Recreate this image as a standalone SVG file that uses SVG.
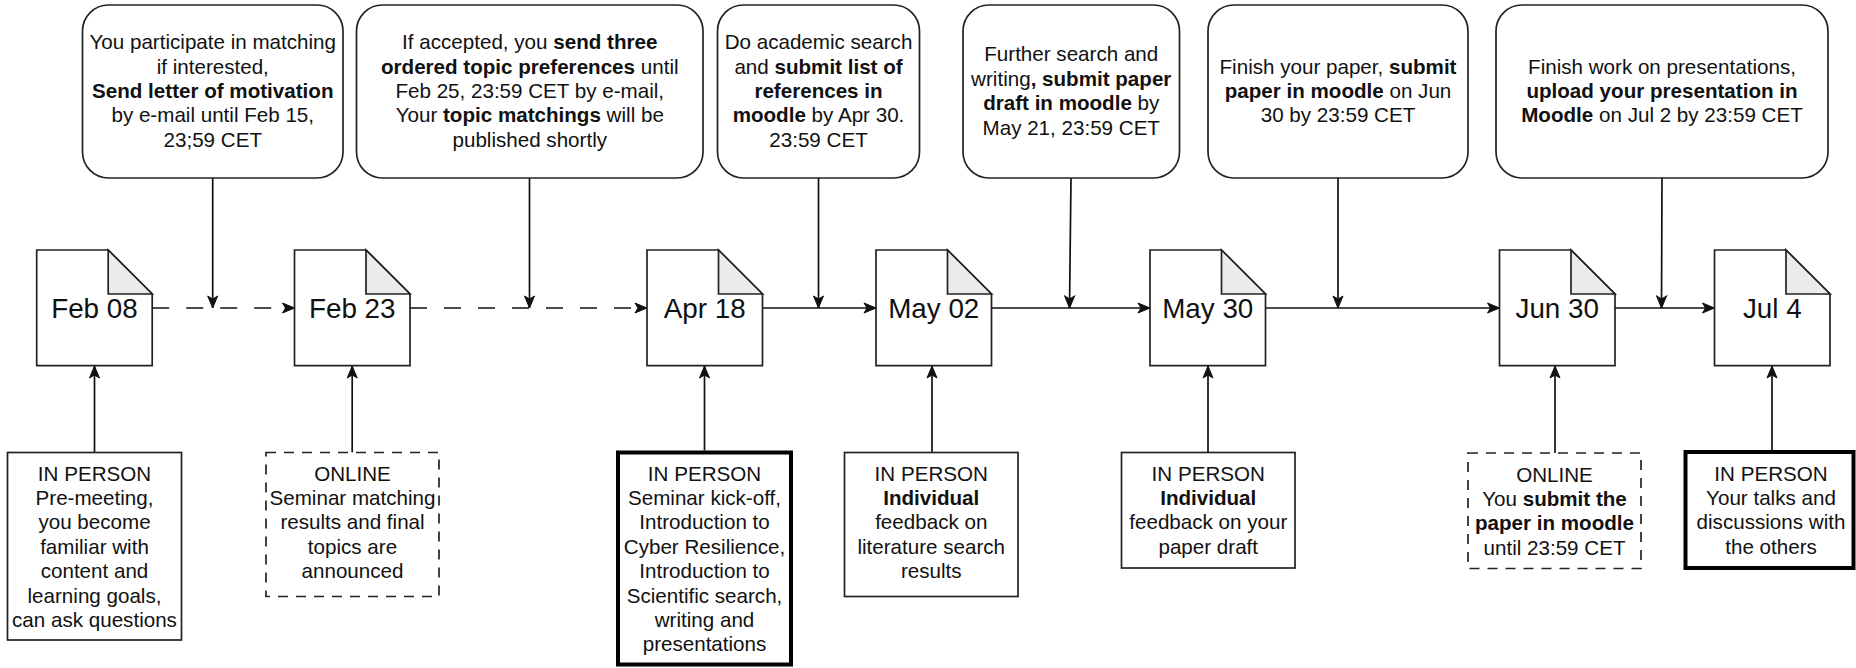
<svg xmlns="http://www.w3.org/2000/svg" width="1856" height="668" viewBox="0 0 1856 668">
<defs>
<style>
text{font-family:"Liberation Sans",Arial,Helvetica,sans-serif;fill:#111;}
.t{font-size:20.6px;text-anchor:middle;}
.b{font-weight:bold;}
.date{font-size:27.8px;text-anchor:middle;}
.call{fill:#fff;stroke:#222;stroke-width:1.7;}
.box{fill:#fff;stroke:#222;stroke-width:1.7;}
.dbox{fill:#fff;stroke:#222;stroke-width:1.7;stroke-dasharray:10 8;}
.tbox{fill:#fff;stroke:#000;stroke-width:4;}
.doc{fill:#fff;stroke:#222;stroke-width:1.7;stroke-linejoin:miter;}
.fold{fill:#ebebeb;stroke:#222;stroke-width:1.7;}
.edge{fill:none;stroke:#111;stroke-width:1.7;marker-end:url(#arr);}
.dash{stroke-dasharray:17 17;}
</style>
<marker id="arr" markerUnits="userSpaceOnUse" viewBox="0 0 14 12" markerWidth="14" markerHeight="12" refX="13" refY="6" orient="auto">
<path d="M13,6 L1,1 L4,6 L1,11 Z" fill="#111" stroke="#111" stroke-width="1" stroke-dasharray="none"/>
</marker>
</defs>
<rect x="0" y="0" width="1856" height="668" fill="#fff"/>

<g id="connectors">
<path class="edge dash" d="M152.2,308 H294.5"/>
<path class="edge dash" d="M410,308 H647"/>
<path class="edge" d="M762.5,308 H876"/>
<path class="edge" d="M991.5,308 H1150"/>
<path class="edge" d="M1265.5,308 H1499.5"/>
<path class="edge" d="M1615,308 H1714.5"/>
<path class="edge" d="M212.7,178 V308"/>
<path class="edge" d="M529.5,178 V308"/>
<path class="edge" d="M818.5,178 V308"/>
<path class="edge" d="M1071,178 L1069.5,308"/>
<path class="edge" d="M1338,178 V308"/>
<path class="edge" d="M1662,178 L1661.5,308"/>
<path class="edge" d="M94.5,452.5 V366"/>
<path class="edge" d="M352.2,452.5 V366"/>
<path class="edge" d="M704.5,450.5 V366"/>
<path class="edge" d="M932,452.5 V366"/>
<path class="edge" d="M1208,452.5 V366"/>
<path class="edge" d="M1555,453 V366"/>
<path class="edge" d="M1772,450 V366"/>
</g>

<g id="note1">
<rect class="call" x="82.5" y="5" width="260.5" height="173" rx="26"/>
<text class="t" x="212.75" y="49.2">You participate in matching</text>
<text class="t" x="212.75" y="73.6">if interested,</text>
<text class="t b" x="212.75" y="98">Send letter of motivation</text>
<text class="t" x="212.75" y="122.4">by e-mail until Feb 15,</text>
<text class="t" x="212.75" y="146.8">23;59 CET</text>
</g>

<g id="note2">
<rect class="call" x="356.5" y="5" width="346.5" height="173" rx="26"/>
<text class="t" x="529.75" y="49.2">If accepted, you <tspan class="b">send three</tspan></text>
<text class="t" x="529.75" y="73.6"><tspan class="b">ordered topic preferences</tspan> until</text>
<text class="t" x="529.75" y="98">Feb 25, 23:59 CET by e-mail,</text>
<text class="t" x="529.75" y="122.4">Your <tspan class="b">topic matchings</tspan> will be</text>
<text class="t" x="529.75" y="146.8">published shortly</text>
</g>

<g id="note3">
<rect class="call" x="717.5" y="5" width="202" height="173" rx="26"/>
<text class="t" x="818.5" y="49.2">Do academic search</text>
<text class="t" x="818.5" y="73.6">and <tspan class="b">submit list of</tspan></text>
<text class="t b" x="818.5" y="98">references in</text>
<text class="t" x="818.5" y="122.4"><tspan class="b">moodle</tspan> by Apr 30.</text>
<text class="t" x="818.5" y="146.8">23:59 CET</text>
</g>

<g id="note4">
<rect class="call" x="963" y="5" width="216.5" height="173" rx="26"/>
<text class="t" x="1071.25" y="61.4">Further search and</text>
<text class="t" x="1071.25" y="85.8">writing<tspan class="b">, submit paper</tspan></text>
<text class="t" x="1071.25" y="110.2"><tspan class="b">draft in moodle</tspan> by</text>
<text class="t" x="1071.25" y="134.6">May 21, 23:59 CET</text>
</g>

<g id="note5">
<rect class="call" x="1208" y="5" width="260" height="173" rx="26"/>
<text class="t" x="1338" y="73.6">Finish your paper, <tspan class="b">submit</tspan></text>
<text class="t" x="1338" y="98"><tspan class="b">paper in moodle</tspan> on Jun</text>
<text class="t" x="1338" y="122.4">30 by 23:59 CET</text>
</g>

<g id="note6">
<rect class="call" x="1496" y="5" width="332" height="173" rx="26"/>
<text class="t" x="1662" y="73.6">Finish work on presentations,</text>
<text class="t b" x="1662" y="98">upload your presentation in</text>
<text class="t" x="1662" y="122.4"><tspan class="b">Moodle</tspan> on Jul 2 by 23:59 CET</text>
</g>

<g id="feb08" transform="translate(36.7,250)">
<path class="doc" d="M0,0H71.5L115.5,44V115.7H0Z"/>
<path class="fold" d="M71.5,0V44H115.5Z"/>
<text class="date" x="57.75" y="68">Feb 08</text>
</g>
<g id="feb23" transform="translate(294.5,250)">
<path class="doc" d="M0,0H71.5L115.5,44V115.7H0Z"/>
<path class="fold" d="M71.5,0V44H115.5Z"/>
<text class="date" x="57.75" y="68">Feb 23</text>
</g>
<g id="apr18" transform="translate(647,250)">
<path class="doc" d="M0,0H71.5L115.5,44V115.7H0Z"/>
<path class="fold" d="M71.5,0V44H115.5Z"/>
<text class="date" x="57.75" y="68">Apr 18</text>
</g>
<g id="may02" transform="translate(876,250)">
<path class="doc" d="M0,0H71.5L115.5,44V115.7H0Z"/>
<path class="fold" d="M71.5,0V44H115.5Z"/>
<text class="date" x="57.75" y="68">May 02</text>
</g>
<g id="may30" transform="translate(1150,250)">
<path class="doc" d="M0,0H71.5L115.5,44V115.7H0Z"/>
<path class="fold" d="M71.5,0V44H115.5Z"/>
<text class="date" x="57.75" y="68">May 30</text>
</g>
<g id="jun30" transform="translate(1499.5,250)">
<path class="doc" d="M0,0H71.5L115.5,44V115.7H0Z"/>
<path class="fold" d="M71.5,0V44H115.5Z"/>
<text class="date" x="57.75" y="68">Jun 30</text>
</g>
<g id="jul4" transform="translate(1714.5,250)">
<path class="doc" d="M0,0H71.5L115.5,44V115.7H0Z"/>
<path class="fold" d="M71.5,0V44H115.5Z"/>
<text class="date" x="57.75" y="68">Jul 4</text>
</g>

<g id="session1">
<rect class="box" x="7.5" y="452.5" width="174" height="187.5"/>
<text class="t" x="94.5" y="480.5">IN PERSON</text>
<text class="t" x="94.5" y="504.9">Pre-meeting,</text>
<text class="t" x="94.5" y="529.3">you become</text>
<text class="t" x="94.5" y="553.7">familiar with</text>
<text class="t" x="94.5" y="578.1">content and</text>
<text class="t" x="94.5" y="602.5">learning goals,</text>
<text class="t" x="94.5" y="626.9">can ask questions</text>
</g>

<g id="session2">
<rect class="dbox" x="266" y="452.5" width="173" height="144"/>
<text class="t" x="352.5" y="480.5">ONLINE</text>
<text class="t" x="352.5" y="504.9">Seminar matching</text>
<text class="t" x="352.5" y="529.3">results and final</text>
<text class="t" x="352.5" y="553.7">topics are</text>
<text class="t" x="352.5" y="578.1">announced</text>
</g>

<g id="session3">
<rect class="tbox" x="618" y="452.5" width="173" height="212"/>
<text class="t" x="704.5" y="480.5">IN PERSON</text>
<text class="t" x="704.5" y="504.9">Seminar kick-off,</text>
<text class="t" x="704.5" y="529.3">Introduction to</text>
<text class="t" x="704.5" y="553.7">Cyber Resilience,</text>
<text class="t" x="704.5" y="578.1">Introduction to</text>
<text class="t" x="704.5" y="602.5">Scientific search,</text>
<text class="t" x="704.5" y="626.9">writing and</text>
<text class="t" x="704.5" y="651.3">presentations</text>
</g>

<g id="session4">
<rect class="box" x="844.5" y="452.5" width="173.5" height="144"/>
<text class="t" x="931.25" y="480.5">IN PERSON</text>
<text class="t b" x="931.25" y="504.9">Individual</text>
<text class="t" x="931.25" y="529.3">feedback on</text>
<text class="t" x="931.25" y="553.7">literature search</text>
<text class="t" x="931.25" y="578.1">results</text>
</g>

<g id="session5">
<rect class="box" x="1121.5" y="452.5" width="173.5" height="115.5"/>
<text class="t" x="1208.25" y="480.5">IN PERSON</text>
<text class="t b" x="1208.25" y="504.9">Individual</text>
<text class="t" x="1208.25" y="529.3">feedback on your</text>
<text class="t" x="1208.25" y="553.7">paper draft</text>
</g>

<g id="session6">
<rect class="dbox" x="1468" y="453" width="173" height="115.5"/>
<text class="t" x="1554.5" y="481.5">ONLINE</text>
<text class="t" x="1554.5" y="505.9">You <tspan class="b">submit the</tspan></text>
<text class="t b" x="1554.5" y="530.3">paper in moodle</text>
<text class="t" x="1554.5" y="554.7">until 23:59 CET</text>
</g>

<g id="session7">
<rect class="tbox" x="1685.5" y="452" width="168" height="116"/>
<text class="t" x="1771" y="480.5">IN PERSON</text>
<text class="t" x="1771" y="504.9">Your talks and</text>
<text class="t" x="1771" y="529.3">discussions with</text>
<text class="t" x="1771" y="553.7">the others</text>
</g>
</svg>
